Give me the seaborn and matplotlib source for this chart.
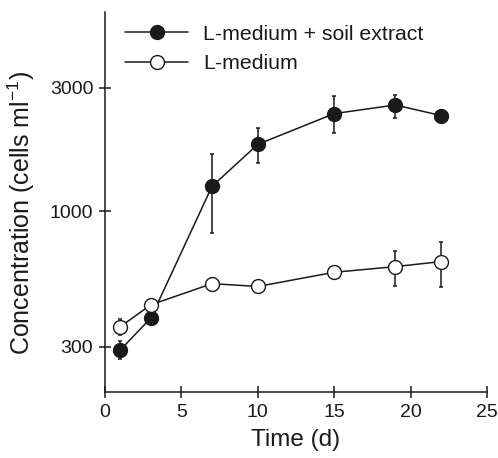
import numpy as np
import pandas as pd
import matplotlib
matplotlib.use("Agg")
import matplotlib.pyplot as plt
import seaborn as sns
from matplotlib.ticker import FixedLocator, FixedFormatter, NullLocator

# ---- data ----
days = [1, 3, 7, 10, 15, 19, 22]
soil_mean = [291, 387, 1249, 1815, 2386, 2576, 2344]
soil_low = [268, np.nan, 824, 1538, 2014, 2296, np.nan]
soil_high = [314, np.nan, 1660, 2090, 2783, 2825, np.nan]
lmed_mean = [358, 435, 525, 512, 581, 611, 639]
lmed_low = [331, np.nan, np.nan, np.nan, np.nan, 516, 508]
lmed_high = [384, np.nan, np.nan, np.nan, np.nan, 700, 762]
series_names = ["L-medium + soil extract", "L-medium"]
x_ticks = [0, 5, 10, 15, 20, 25]
y_ticks = [300, 1000, 3000]
y_ticklabels = ["300", "1000", "3000"]

sns.set_theme(style="ticks")
plt.rcParams["font.family"] = ["Liberation Sans", "DejaVu Sans"]
plt.rcParams["mathtext.default"] = "regular"

df = pd.DataFrame({
    "day": days * 2,
    "conc": soil_mean + lmed_mean,
    "series": [series_names[0]] * len(days) + [series_names[1]] * len(days),
})

fig = plt.figure(figsize=(4.98, 4.58), dpi=100)
ax = fig.add_axes([0.211, 0.144, 0.767, 0.830])

lw = 1.1
ink = "#1a1a1a"
# error bars first
for mean, lo, hi in [(soil_mean, soil_low, soil_high), (lmed_mean, lmed_low, lmed_high)]:
    m = np.array(mean, float)
    l = np.array(lo, float)
    h = np.array(hi, float)
    ok = ~np.isnan(l)
    ax.errorbar(np.array(days)[ok], m[ok], yerr=[m[ok] - l[ok], h[ok] - m[ok]],
                fmt="none", ecolor=ink, elinewidth=lw, capsize=1.5, capthick=lw, zorder=1)

sns.lineplot(data=df[df.series == series_names[0]], x="day", y="conc", ax=ax,
             color=ink, lw=lw, marker="o", markersize=10,
             markerfacecolor=ink, markeredgecolor=ink, markeredgewidth=1,
             label=series_names[0], zorder=2)
sns.lineplot(data=df[df.series == series_names[1]], x="day", y="conc", ax=ax,
             color=ink, lw=lw, marker="o", markersize=10,
             markerfacecolor="white", markeredgecolor=ink, markeredgewidth=1,
             label=series_names[1], zorder=3)

ax.set_yscale("log")
ax.set_ylim(200, 5900)
ax.set_xlim(0, 25)
ax.yaxis.set_major_locator(FixedLocator(y_ticks))
ax.yaxis.set_major_formatter(FixedFormatter(y_ticklabels))
ax.yaxis.set_minor_locator(NullLocator())
ax.set_xticks(x_ticks)

for s in ["top", "right"]:
    ax.spines[s].set_visible(False)
for s in ["left", "bottom"]:
    ax.spines[s].set_linewidth(1.1)
    ax.spines[s].set_color(ink)

ax.tick_params(axis="both", which="major", direction="inout", length=8, width=1.1,
               labelsize=14, colors=ink)
ax.tick_params(axis="y", pad=4.5)
ax.tick_params(axis="x", pad=4.5)
ax.set_xlabel("Time (d)", fontsize=17.5, color=ink, labelpad=6)
ax.set_ylabel("Concentration (cells ml$^{-1}$)", fontsize=18, color=ink)
ax.yaxis.set_label_coords(-0.178, 0.47)

leg = ax.legend(loc="upper left", frameon=False, fontsize=15.3, handlelength=3.0,
                handletextpad=0.7, labelspacing=0.5, borderaxespad=0.2,
                bbox_to_anchor=(0.018, 1.0))
for t in leg.get_texts():
    t.set_color(ink)

fig.savefig("out.png", dpi=100)
